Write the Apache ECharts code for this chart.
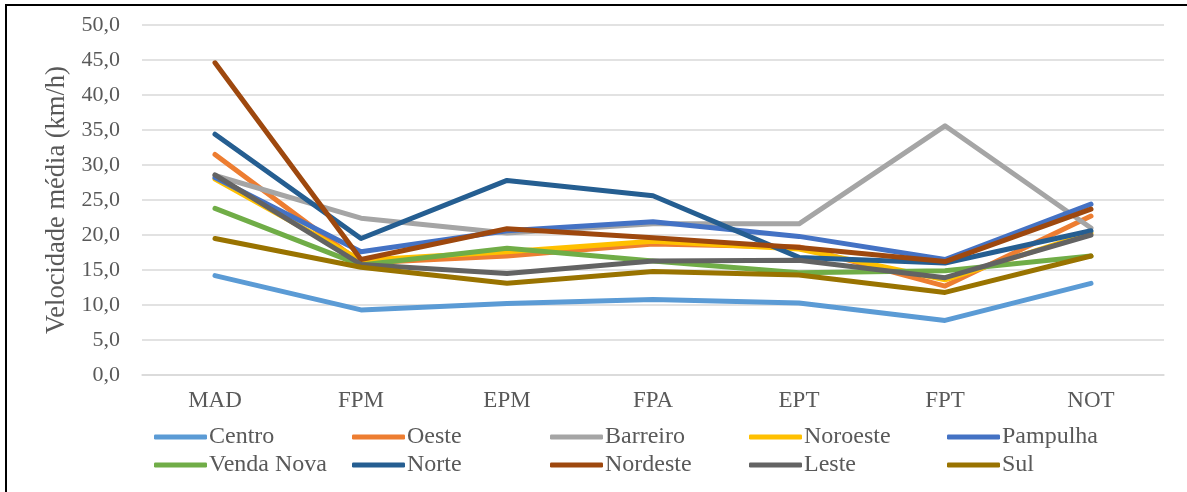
<!DOCTYPE html>
<html>
<head>
<meta charset="utf-8">
<script src="https://cdn.jsdelivr.net/npm/echarts@6/dist/echarts.min.js"></script>
<style>
html,body{margin:0;padding:0;background:#fff;}
#chart{width:1187px;height:492px;}
</style>
</head>
<body>
<div id="chart"></div>
<script>
const categories = ['MAD', 'FPM', 'EPM', 'FPA', 'EPT', 'FPT', 'NOT'];
const yTicks = [0, 5, 10, 15, 20, 25, 30, 35, 40, 45, 50];
const seriesNames = ['Centro', 'Oeste', 'Barreiro', 'Noroeste', 'Pampulha', 'Venda Nova', 'Norte', 'Nordeste', 'Leste', 'Sul'];
const centro    = [14.2, 9.3, 10.2, 10.8, 10.3, 7.8, 13.1];
const oeste     = [31.5, 16.0, 17.0, 18.7, 18.3, 12.7, 22.7];
const barreiro  = [28.5, 22.4, 20.3, 21.6, 21.6, 35.6, 21.0];
const noroeste  = [28.0, 16.4, 17.6, 19.1, 18.0, 13.6, 20.3];
const pampulha  = [28.2, 17.6, 20.6, 21.9, 19.8, 16.5, 24.4];
const vendaNova = [23.8, 15.7, 18.1, 16.3, 14.6, 14.9, 17.0];
const norte     = [34.4, 19.5, 27.8, 25.6, 16.8, 16.0, 20.6];
const nordeste  = [44.6, 16.5, 20.9, 19.6, 18.2, 16.2, 23.7];
const leste     = [28.6, 15.8, 14.5, 16.3, 16.4, 13.9, 20.0];
const sul       = [19.5, 15.4, 13.1, 14.8, 14.3, 11.8, 17.0];
const seriesValues = [centro, oeste, barreiro, noroeste, pampulha, vendaNova, norte, nordeste, leste, sul];
const colors = ['#5B9BD5', '#ED7D31', '#A5A5A5', '#FFC000', '#4472C4', '#70AD47', '#255E91', '#9E480E', '#636363', '#997300'];

const FONT = 'Liberation Serif';
const TXT = '#595959';

const legendCols = [154, 352, 550, 749, 947];
const legendRows = [425, 453];
const legends = seriesNames.map((n, i) => ({
  data: [n],
  left: legendCols[i % 5],
  top: legendRows[Math.floor(i / 5)],
  icon: 'roundRect',
  itemWidth: 53,
  itemHeight: 5,
  itemGap: 0,
  padding: 0,
  textStyle: { fontFamily: FONT, fontSize: 24, color: TXT, padding: [0, 0, 0, -3] }
}));

const chart = echarts.init(document.getElementById('chart'), null, { renderer: 'canvas' });
chart.setOption({
  backgroundColor: '#ffffff',
  animation: false,
  textStyle: { fontFamily: FONT },
  color: colors,
  grid: { left: 142, right: 23, top: 25, bottom: 117 },
  legend: legends,
  graphic: [{
    type: 'rect',
    shape: { x: 6, y: 5, width: 1200, height: 520 },
    style: { fill: 'none', stroke: '#000', lineWidth: 2 },
    silent: true
  }],
  xAxis: {
    type: 'category',
    data: categories,
    boundaryGap: true,
    axisLine: { show: true, lineStyle: { color: '#D9D9D9', width: 1.5 } },
    axisTick: { show: false },
    axisLabel: { fontFamily: FONT, fontSize: 23, color: TXT, margin: 14 }
  },
  yAxis: {
    type: 'value',
    min: yTicks[0],
    max: yTicks[yTicks.length - 1],
    interval: yTicks[1] - yTicks[0],
    name: 'Velocidade média (km/h)',
    nameLocation: 'middle',
    nameGap: 59,
    nameRotate: 90,
    nameTextStyle: { fontFamily: FONT, fontSize: 26.5, color: TXT },
    axisLine: { show: false },
    axisTick: { show: false },
    splitLine: { lineStyle: { color: '#D9D9D9', width: 1.5 } },
    axisLabel: {
      fontFamily: FONT, fontSize: 22, color: TXT, margin: 22,
      formatter: v => v.toFixed(1).replace('.', ',')
    }
  },
  series: seriesNames.map((n, i) => ({
    name: n,
    type: 'line',
    data: seriesValues[i],
    symbol: 'none',
    lineStyle: { width: 5, color: colors[i], cap: 'round', join: 'round' },
    itemStyle: { color: colors[i] }
  }))
});
</script>
</body>
</html>
